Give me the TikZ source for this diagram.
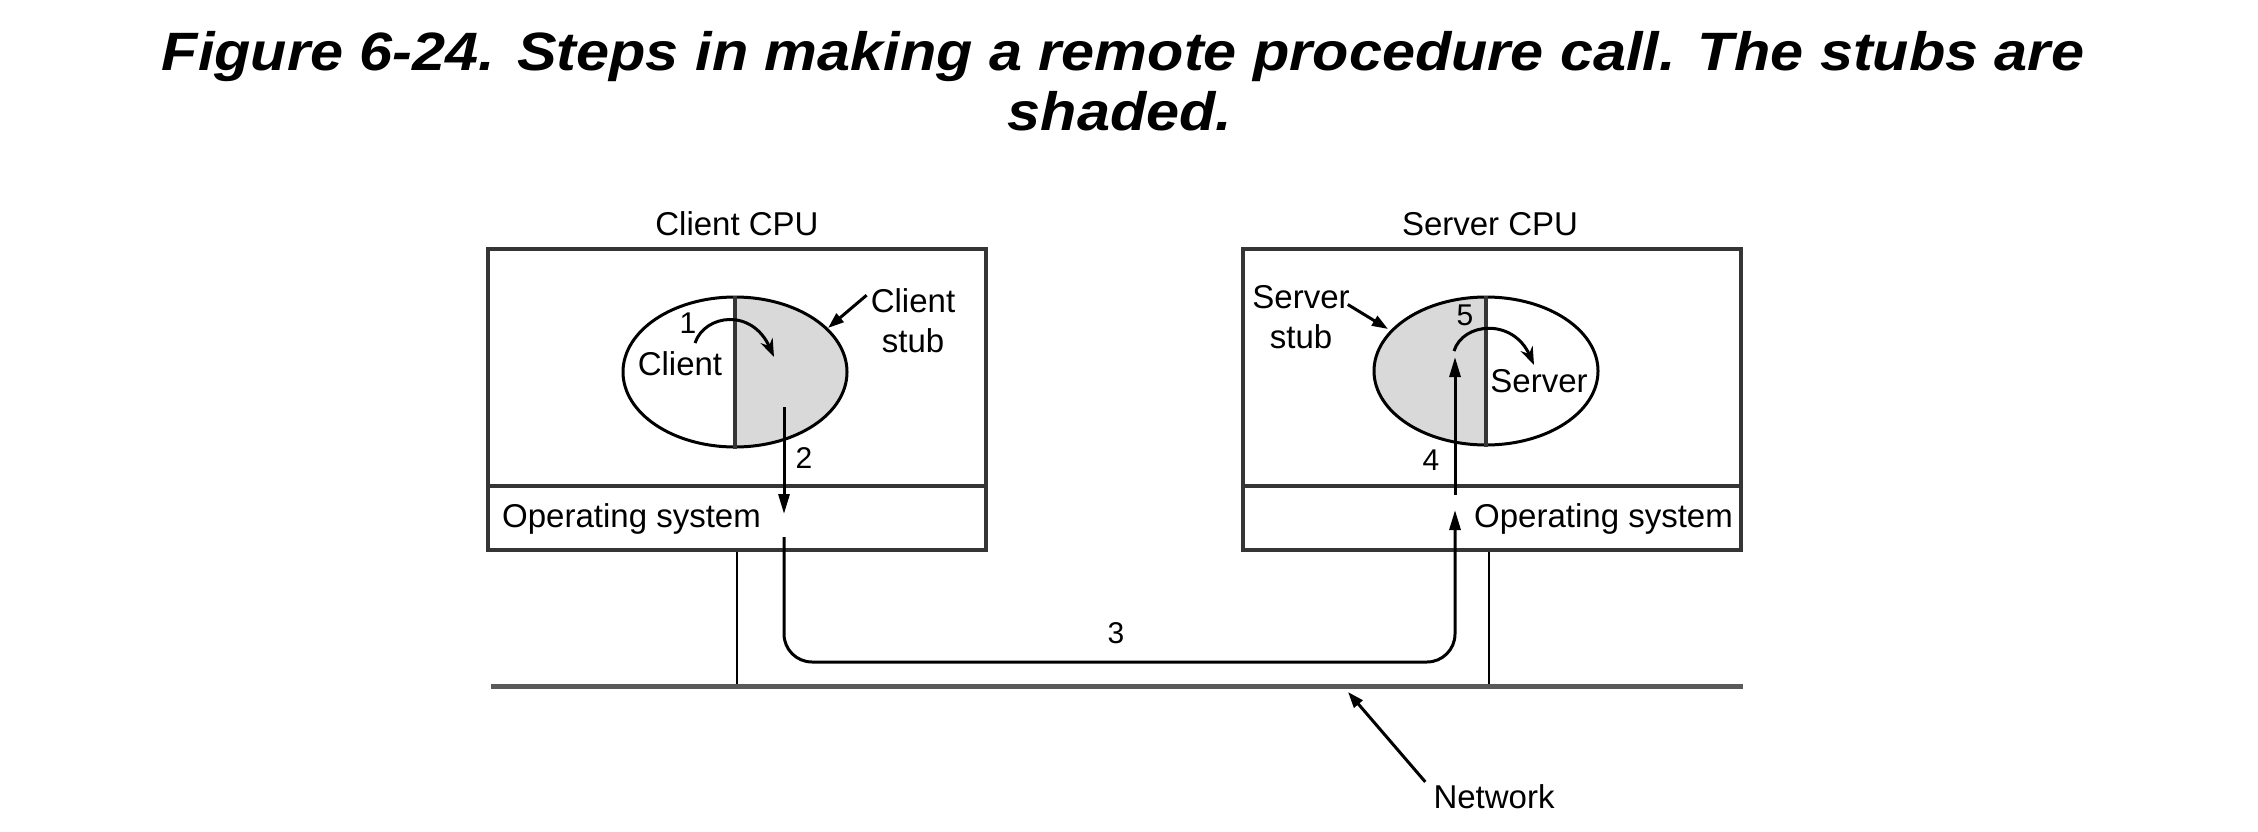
\documentclass[tikz,border=0pt]{standalone}
\usepackage{fontspec}
\setmainfont{Liberation Sans}
\usetikzlibrary{arrows.meta,shapes.geometric}
\definecolor{shadegray}{HTML}{D9D9D9}
\definecolor{linegray}{HTML}{353535}
\definecolor{netgray}{HTML}{5A5A5A}
\begin{document}
\begin{tikzpicture}[x=1pt,y=-1pt,
  titlefont/.style={font=\fontsize{54}{61}\selectfont\bfseries\itshape, inner sep=0pt, anchor=base, xscale=1.1},
  lbl/.style={font=\fontsize{33}{40}\selectfont, inner sep=0pt, anchor=base},
  num/.style={font=\fontsize{30}{36}\selectfont, inner sep=0pt, anchor=base},
  cpubox/.style={draw=linegray, line width=4pt, minimum width=498pt, minimum height=237pt, inner sep=0pt},
  osbox/.style={draw=linegray, line width=4pt, minimum width=498pt, minimum height=64pt, inner sep=0pt},
  proc/.style={ellipse, draw=black, line width=3pt, minimum width=224pt, minimum height=150pt, inner sep=0pt},
  flow/.style={line width=3pt, -{Triangle[length=20pt,width=11pt]}},
  curl/.style={line width=3pt, -{Stealth[length=18pt,width=13pt]}},
  pointer/.style={line width=3pt, -{Triangle[length=16pt,width=11pt]}},
  divider/.style={draw=linegray, line width=4pt},
  drop/.style={line width=2pt, draw=black},
  netline/.style={line width=5pt, draw=netgray}
]
\useasboundingbox (0,0) rectangle (2258,832);

% title
\node[titlefont] (title1) at (1123,71) {Figure 6-24. Steps in making a remote procedure call. The stubs are};
\node[titlefont] (title2) at (1120,131) {shaded.};

% boxes
\node[cpubox] (ccpu) at (737,367.5) {};
\node[osbox] (cos) at (737,518) {};
\node[cpubox] (scpu) at (1492,367.5) {};
\node[osbox] (sos) at (1492,518) {};

\node[lbl] (ccpulbl) at (737,235) {Client CPU};
\node[lbl] (scpulbl) at (1490,235) {Server CPU};
\node[lbl, anchor=base west] (coslbl) at (502,527) {Operating system};
\node[lbl, anchor=base east] (soslbl) at (1733,527) {Operating system};

% processes
\node[proc, path picture={\fill[shadegray] (path picture bounding box.north) rectangle (path picture bounding box.south east);}] (cproc) at (735,372) {};
\draw[divider] (cproc.north) -- (cproc.south);
\node[proc, minimum height=148pt, path picture={\fill[shadegray] (path picture bounding box.north west) rectangle (path picture bounding box.south);}] (sproc) at (1486,371) {};
\draw[divider] (sproc.north) -- (sproc.south);

\node[lbl] (clientlbl) at (680,375) {Client};
\node[lbl] (serverlbl) at (1539,392) {Server};
\node[lbl] (cstubA) at (913,312) {Client};
\node[lbl] (cstubB) at (913,352) {stub};
\node[lbl] (sstubA) at (1301,308) {Server};
\node[lbl] (sstubB) at (1301,348) {stub};

% stub pointers
\coordinate (cstubtip) at (828,328);
\coordinate (sstubtip) at (1388,329);
\draw[pointer] ([xshift=-4pt,yshift=5pt]cstubA.west) -- (cstubtip);
\draw[pointer] ([xshift=-2pt,yshift=4pt]sstubA.south east) -- (sstubtip);

% step 1 and 5
\coordinate (c1s) at (695,343);
\coordinate (c1e) at (774,357);
\draw[curl] (c1s) .. controls (705,314) and (752,308) .. (c1e);
\coordinate (s5s) at (1454,351);
\coordinate (s5e) at (1534,365);
\draw[curl] (s5s) .. controls (1463,322) and (1513,318) .. (s5e);

\node[num] (n1) at (688,333) {1};
\node[num] (n2) at (804,468) {2};
\node[num] (n3) at (1116,643) {3};
\node[num] (n4) at (1431,470) {4};
\node[num] (n5) at (1465,325) {5};

% step 2, 3, 4
\coordinate (c2top) at (784,407);
\coordinate (c2tip) at (784,514);
\coordinate (c3start) at (784,537);
\coordinate (s3tip) at (1455,510);
\coordinate (s4bot) at (1455,495);
\coordinate (s4tip) at (1455,357);
\draw[flow] (c2top) -- (c2tip);
\draw[flow, rounded corners=28pt] (c3start) -- ++(0,125) -| (s3tip);
\draw[flow] (s4bot) -- (s4tip);

% network
\coordinate (netL) at (491,686);
\coordinate (netR) at (1743,686);
\draw[drop] (cos.south) -- (cos.south |- netL);
\draw[drop] ([xshift=-3pt]sos.south) -- ([xshift=-3pt]sos.south |- netL);
\draw[netline] (netL) -- (netR);

\node[lbl] (netlbl) at (1494,808) {Network};
\coordinate (nettip) at (1348,692);
\draw[pointer] ([xshift=-8pt,yshift=2pt]netlbl.north west) -- (nettip);
\end{tikzpicture}
\end{document}
